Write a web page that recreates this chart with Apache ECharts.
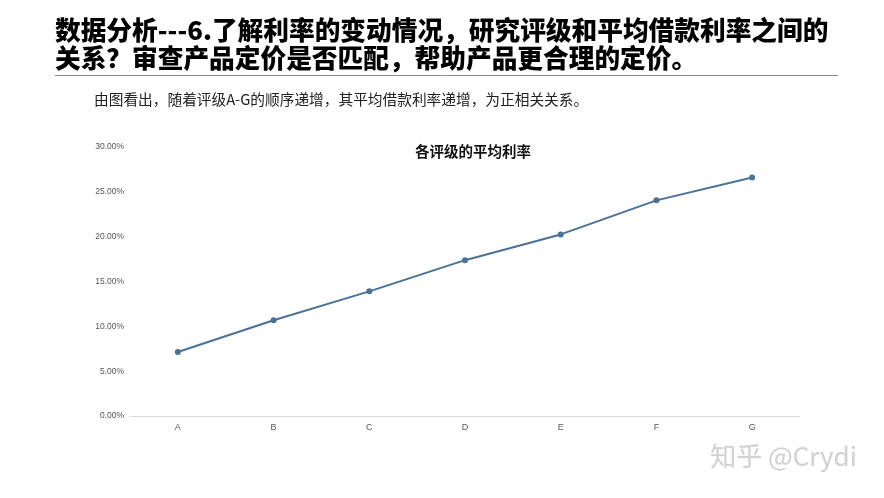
<!DOCTYPE html>
<html><head><meta charset="utf-8">
<script src="https://cdn.jsdelivr.net/npm/echarts@6/dist/echarts.min.js"></script>
<style>html,body{margin:0;padding:0;background:#fff}#c{width:884px;height:498px}</style>
</head><body><div id="c"></div>
<script>
const categories = ['A','B','C','D','E','F','G'];
const avgRate = [0.0713, 0.1068, 0.1390, 0.1738, 0.2025, 0.2405, 0.2660];
const yTicks = [0, 0.05, 0.10, 0.15, 0.20, 0.25, 0.30];
const mainTitle1 = '数据分析---6.了解利率的变动情况，研究评级和平均借款利率之间的';
const mainTitle2 = '关系？审查产品定价是否匹配，帮助产品更合理的定价。';
const subText = '由图看出，随着评级A-G的顺序递增，其平均借款利率递增，为正相关关系。';
const chartTitle = '各评级的平均利率';
const watermark = '知乎 @Crydi';

const chart = echarts.init(document.getElementById('c'));
chart.setOption({
  backgroundColor: '#fff',
  animation: false,
  title: {
    text: chartTitle, left: 468, top: 139, textAlign: 'center',
    textStyle: {fontSize: 14.5, fontWeight: 'bold', color: '#111', fontFamily: 'Noto Sans CJK SC'}
  },
  graphic: [
    {type:'text', left: 55, top: 17, style:{text: mainTitle1, font: '900 25.7px "Noto Sans CJK SC"', fill:'#000'}},
    {type:'text', left: 55, top: 45, style:{text: mainTitle2, font: '900 25.7px "Noto Sans CJK SC"', fill:'#000'}},
    {type:'line', shape:{x1:55, y1:75.5, x2:838, y2:75.5}, style:{stroke:'#8c8c8c', lineWidth:1}},
    {type:'text', left: 94, top: 92, style:{text: subText, font: '14.7px "Noto Sans CJK SC"', fill:'#222'}},
    {type:'text', left: 710, top: 443, style:{text: watermark, font: '26px "Noto Sans CJK SC"', fill:'#d2d2d2', stroke:'#eee', lineWidth:0.5}}
  ],
  grid: {left: 130, right: 84, top: 147, bottom: 82},
  xAxis: {
    type: 'category', data: categories, boundaryGap: true,
    axisLine: {lineStyle: {color: '#d9d9d9', width: 1}},
    axisTick: {show: false},
    axisLabel: {color: '#595959', fontSize: 9, margin: 7, fontFamily: 'Arial'}
  },
  yAxis: {
    type: 'value', min: 0, max: 0.30, interval: 0.05,
    axisLine: {show: false}, axisTick: {show: false},
    splitLine: {show: false},
    axisLabel: {color: '#555', fontSize: 8.5, margin: 6, fontFamily: 'Arial',
      formatter: v => (v*100).toFixed(2) + '%'}
  },
  series: [{
    type: 'line', data: avgRate,
    symbol: 'circle', symbolSize: 6,
    lineStyle: {color: '#4a7196', width: 2},
    itemStyle: {color: '#4a7196'}
  }]
});
</script></body></html>
